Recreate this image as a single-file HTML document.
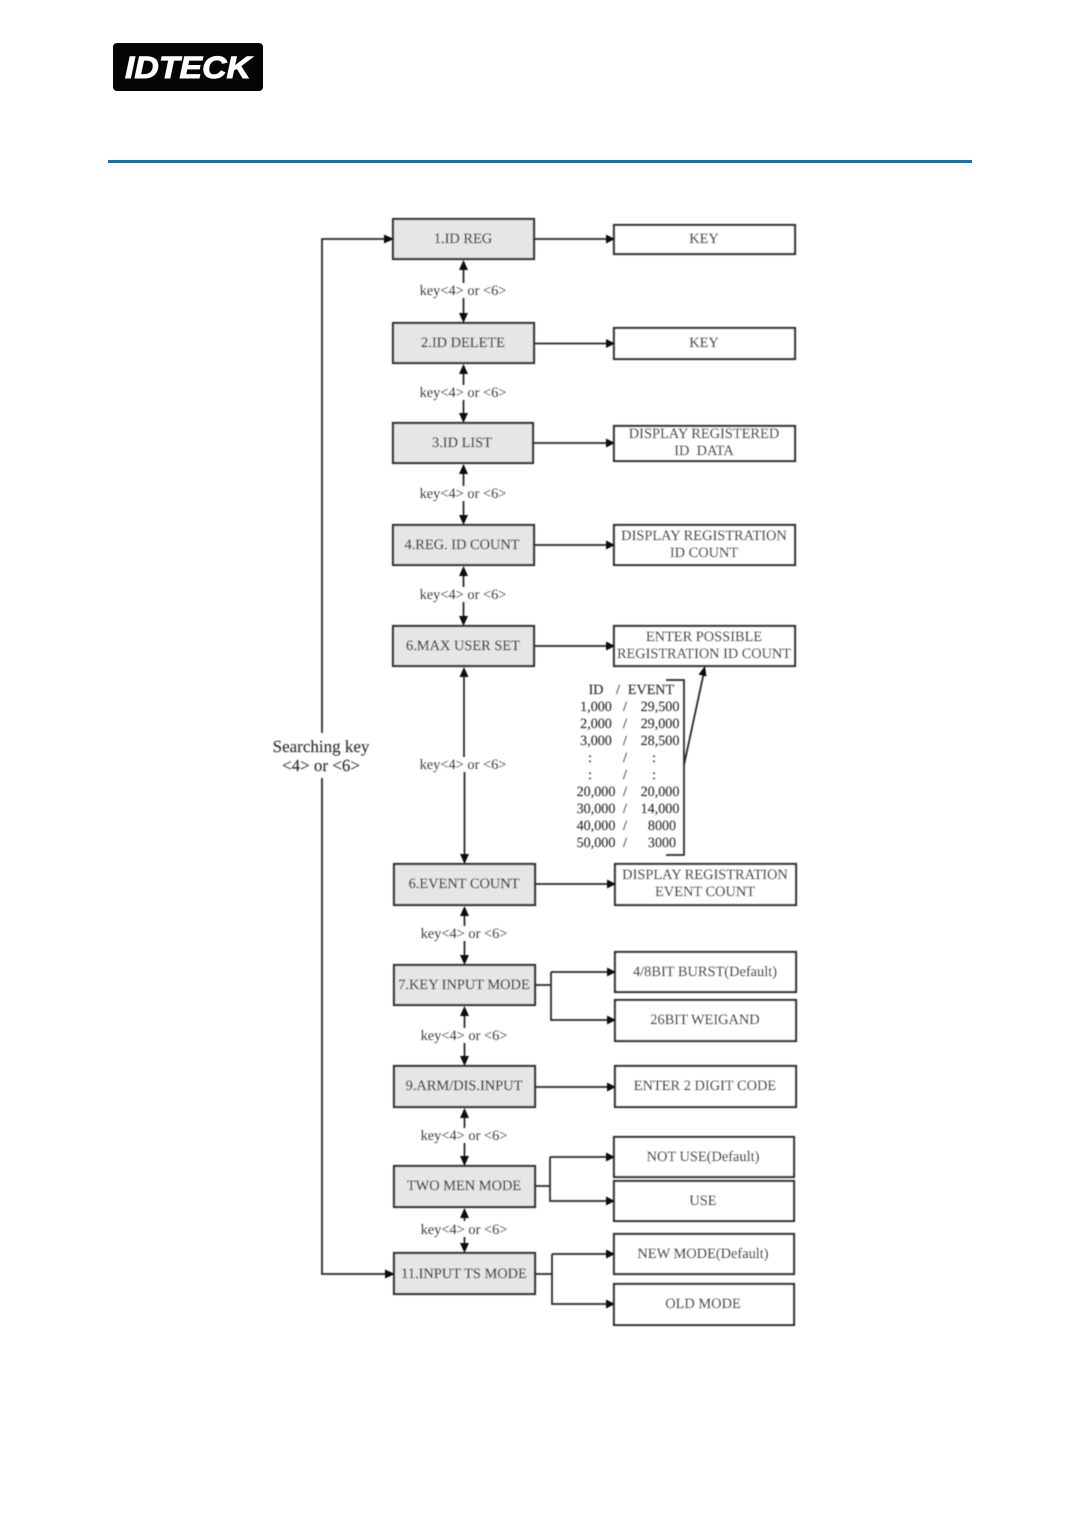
<!DOCTYPE html>
<html><head><meta charset="utf-8"><style>
html,body{margin:0;padding:0;background:#fff}
svg{display:block;position:absolute;left:0;top:0}
text{font-family:"Liberation Serif",serif;font-size:14.4px;fill:#333;text-anchor:middle;stroke:#333;stroke-width:.15;text-rendering:geometricPrecision}
.l{fill:#e6e6e6;stroke:#333;stroke-width:2.2}
.r{fill:#fff;stroke:#333;stroke-width:2.2}
.c{fill:none;stroke:#2a2a2a;stroke-width:1.8}
.a{fill:#111}
.tb text{font-size:14.1px}
.k text{font-size:14.4px;fill:#3c3c3c;stroke:none}
.logo{font-family:"Liberation Sans",sans-serif;font-size:31px;font-weight:bold;font-style:italic;fill:#fff;stroke:#fff;stroke-width:.9;text-anchor:start}
</style></head><body>
<svg width="1081" height="1513" viewBox="0 0 1081 1513" xmlns="http://www.w3.org/2000/svg">
<defs><filter id="b" filterUnits="userSpaceOnUse" x="0" y="0" width="1081" height="1513"><feGaussianBlur stdDeviation="0.5"/></filter></defs>
<rect x="113" y="43" width="150" height="48" rx="4" fill="#050505"/>
<text class="logo" x="125" y="78" textLength="126" lengthAdjust="spacingAndGlyphs">IDTECK</text>
<rect x="108" y="160" width="864" height="3" fill="#0f75b5"/>

<g filter="url(#b)">
<g>
<rect class="l" x="393" y="219" width="141" height="40"/>
<rect class="l" x="393" y="323" width="141" height="40"/>
<rect class="l" x="393" y="423" width="140" height="40"/>
<rect class="l" x="393" y="525" width="141" height="40"/>
<rect class="l" x="393" y="626" width="141" height="40"/>
<rect class="l" x="394" y="864" width="141" height="41"/>
<rect class="l" x="394" y="965" width="141" height="40"/>
<rect class="l" x="394" y="1066" width="141" height="41"/>
<rect class="l" x="394" y="1166" width="141" height="41"/>
<rect class="l" x="394" y="1253" width="141" height="41"/>

<rect class="r" x="614" y="225" width="181" height="29"/>
<rect class="r" x="614" y="328" width="181" height="31"/>
<rect class="r" x="614" y="426" width="181" height="35"/>
<rect class="r" x="614" y="525" width="181" height="40"/>
<rect class="r" x="614" y="626" width="181" height="40"/>
<rect class="r" x="615" y="864" width="181" height="41"/>
<rect class="r" x="615" y="952" width="181" height="40"/>
<rect class="r" x="615" y="1000" width="181" height="41"/>
<rect class="r" x="615" y="1066" width="181" height="41"/>
<rect class="r" x="614" y="1137" width="180" height="40"/>
<rect class="r" x="614" y="1181" width="180" height="40"/>
<rect class="r" x="614" y="1234" width="180" height="40"/>
<rect class="r" x="614" y="1284" width="180" height="41"/>
</g>

<path class="c" d="M534 239H607M534 343.500H607M533 443H607M534 545H607M534 646H607M535 884H608M535 1087H608"/>
<path class="c" d="M535 985H551M551 972H608M551 972V1020H608"/>
<path class="c" d="M535 1186H550M550 1157H607M550 1157V1201H607"/>
<path class="c" d="M535 1274H552M552 1254H607M552 1254V1304H607"/>
<g class="a">
<path d="M615 239l-9-4.500v9zM615 343.500l-9-4.500v9zM615 443l-9-4.500v9zM615 545l-9-4.500v9zM615 646l-9-4.500v9z"/>
<path d="M616 884l-9-4.500v9zM616 972l-9-4.500v9zM616 1020l-9-4.500v9zM616 1087l-9-4.500v9z"/>
<path d="M615 1157l-9-4.500v9zM615 1201l-9-4.500v9zM615 1254l-9-4.500v9zM615 1304l-9-4.500v9z"/>
</g>

<path class="c" d="M463.500 266V283M463.500 298V316M463.500 370V385M463.500 400V416M463.500 470V486M463.500 501V518M463.500 572V587M463.500 602V619M464 673V757M464.500 772V857M464.500 912V926M464.500 941V958M464.500 1012V1028M464.500 1043V1059M464.500 1114V1128M464.500 1143V1159M464.500 1214V1221M464.500 1237V1246"/>
<g class="a">
<path d="M463.500 260l-4.500 10h9zM463.500 323l-4.500-10h9zM463.500 364l-4.500 10h9zM463.500 423l-4.500-10h9zM463.500 464l-4.500 10h9zM463.500 525l-4.500-10h9zM463.500 566l-4.500 10h9zM463.500 626l-4.500-10h9zM464 667l-4.500 10h9zM464.500 864l-4.500-10h9zM464.500 906l-4.500 10h9zM464.500 965l-4.500-10h9zM464.500 1006l-4.500 10h9zM464.500 1066l-4.500-10h9zM464.500 1108l-4.500 10h9zM464.500 1166l-4.500-10h9zM464.500 1208l-4.500 10h9zM464.500 1253l-4.500-10h9z"/>
</g>

<path class="c" d="M322 733V239H386M322 778V1274H387"/>
<path class="a" d="M394 239l-10-4.500v9zM395 1274l-10-4.500v9z"/>

<path class="c" d="M666 680H684V855H666M684 765L704 672"/>
<path class="a" d="M705 666l-6.500 8.500 8 2z"/>

<g>
<text x="463" y="243">1.ID REG</text>
<text x="463" y="347">2.ID DELETE</text>
<text x="462" y="447">3.ID LIST</text>
<text x="462" y="549">4.REG. ID COUNT</text>
<text x="463" y="650">6.MAX USER SET</text>
<text x="464" y="888">6.EVENT COUNT</text>
<text x="464" y="989">7.KEY INPUT MODE</text>
<text x="464" y="1090">9.ARM/DIS.INPUT</text>
<text x="464" y="1190">TWO MEN MODE</text>
<text x="464" y="1278">11.INPUT TS MODE</text>

<text x="704" y="243">KEY</text>
<text x="704" y="347">KEY</text>
<text x="704" y="438">DISPLAY REGISTERED</text>
<text x="704" y="455">ID&#160;&#160;DATA</text>
<text x="704" y="540">DISPLAY REGISTRATION</text>
<text x="704" y="557">ID COUNT</text>
<text x="704" y="641">ENTER POSSIBLE</text>
<text x="704" y="658" textLength="174" lengthAdjust="spacingAndGlyphs">REGISTRATION ID COUNT</text>
<text x="705" y="879">DISPLAY REGISTRATION</text>
<text x="705" y="896">EVENT COUNT</text>
<text x="705" y="976">4/8BIT BURST(Default)</text>
<text x="705" y="1024">26BIT WEIGAND</text>
<text x="705" y="1090">ENTER 2 DIGIT CODE</text>
<text x="703" y="1161">NOT USE(Default)</text>
<text x="703" y="1205">USE</text>
<text x="703" y="1258">NEW MODE(Default)</text>
<text x="703" y="1308">OLD MODE</text>
</g>

<g class="k">
<text x="463" y="295">key&lt;4&gt; or &lt;6&gt;</text>
<text x="463" y="397">key&lt;4&gt; or &lt;6&gt;</text>
<text x="463" y="498">key&lt;4&gt; or &lt;6&gt;</text>
<text x="463" y="599">key&lt;4&gt; or &lt;6&gt;</text>
<text x="463" y="769">key&lt;4&gt; or &lt;6&gt;</text>
<text x="464" y="938">key&lt;4&gt; or &lt;6&gt;</text>
<text x="464" y="1040">key&lt;4&gt; or &lt;6&gt;</text>
<text x="464" y="1140">key&lt;4&gt; or &lt;6&gt;</text>
<text x="464" y="1234">key&lt;4&gt; or &lt;6&gt;</text>
</g>

<text x="321" y="752" style="font-size:17px">Searching key</text>
<text x="321" y="771" style="font-size:17px">&lt;4&gt; or &lt;6&gt;</text>

<g class="tb">
<text x="596" y="694">ID</text><text x="618" y="694">/</text><text x="651" y="694">EVENT</text>
<text x="596" y="711">1,000</text><text x="625" y="711">/</text><text x="660" y="711">29,500</text>
<text x="596" y="728">2,000</text><text x="625" y="728">/</text><text x="660" y="728">29,000</text>
<text x="596" y="745">3,000</text><text x="625" y="745">/</text><text x="660" y="745">28,500</text>
<text x="590" y="762">:</text><text x="625" y="762">/</text><text x="654" y="762">:</text>
<text x="590" y="779">:</text><text x="625" y="779">/</text><text x="654" y="779">:</text>
<text x="596" y="796">20,000</text><text x="625" y="796">/</text><text x="660" y="796">20,000</text>
<text x="596" y="813">30,000</text><text x="625" y="813">/</text><text x="660" y="813">14,000</text>
<text x="596" y="830">40,000</text><text x="625" y="830">/</text><text x="662" y="830">8000</text>
<text x="596" y="847">50,000</text><text x="625" y="847">/</text><text x="662" y="847">3000</text>
</g>
</g>
</svg>
</body></html>
